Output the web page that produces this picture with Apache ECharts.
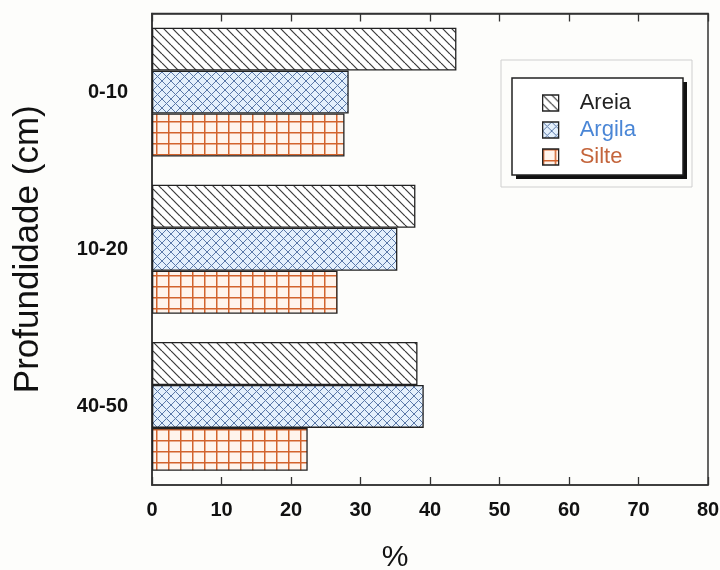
<!DOCTYPE html>
<html>
<head>
<meta charset="utf-8">
<script src="https://cdn.jsdelivr.net/npm/echarts@6/dist/echarts.min.js"></script>
<style>
  html, body { margin: 0; padding: 0; background: #fdfdfb; }
  #chart { width: 720px; height: 570px; }
</style>
</head>
<body>
<div id="chart"></div>
<script>
// Soil texture fractions (%) by depth layer
const depths = ['0-10', '10-20', '40-50'];
const areia  = [43.8, 37.9, 38.2];
const argila = [28.3, 35.3, 39.1];
const silte  = [27.7, 26.7, 22.4];
const xTicks = { min: 0, max: 80, interval: 10 };

// Hatch fills drawn on small tiles
function hatchDiagonal() {
  const s = 9, c = document.createElement('canvas');
  c.width = s; c.height = s;
  const g = c.getContext('2d');
  g.fillStyle = '#ffffff'; g.fillRect(0, 0, s, s);
  g.strokeStyle = '#3a3a3a'; g.lineWidth = 1.2;
  for (let k = -1; k <= 1; k++) {
    g.beginPath(); g.moveTo(k * s, 0); g.lineTo(k * s + s, s); g.stroke();
  }
  return c;
}
function hatchCross() {
  const s = 9, c = document.createElement('canvas');
  c.width = s; c.height = s;
  const g = c.getContext('2d');
  g.fillStyle = '#e4f0fc'; g.fillRect(0, 0, s, s);
  g.strokeStyle = '#5a78a8'; g.lineWidth = 1;
  for (let k = -1; k <= 1; k++) {
    g.beginPath(); g.moveTo(k * s, 0); g.lineTo(k * s + s, s); g.stroke();
    g.beginPath(); g.moveTo(k * s + s, 0); g.lineTo(k * s, s); g.stroke();
  }
  return c;
}
function hatchGrid() {
  const w = 12, h = 11, c = document.createElement('canvas');
  c.width = w; c.height = h;
  const g = c.getContext('2d');
  g.fillStyle = '#fff4ec'; g.fillRect(0, 0, w, h);
  g.strokeStyle = '#d2632c'; g.lineWidth = 1.5;
  g.beginPath(); g.moveTo(0.75, 0); g.lineTo(0.75, h); g.stroke();
  g.beginPath(); g.moveTo(0, 0.75); g.lineTo(w, 0.75); g.stroke();
  return c;
}

const fills = {
  Areia:  { image: hatchDiagonal(), repeat: 'repeat' },
  Argila: { image: hatchCross(), repeat: 'repeat' },
  Silte:  { image: hatchGrid(), repeat: 'repeat' }
};
const textColors = { Areia: '#222222', Argila: '#4a86d6', Silte: '#c4653c' };

const FONT = '"Liberation Sans", Arial, Helvetica, sans-serif';
const chart = echarts.init(document.getElementById('chart'), null, { renderer: 'canvas' });

function barSeries(name, values) {
  return {
    name: name,
    type: 'bar',
    data: values,
    barGap: '0%',
    barCategoryGap: '18%',
    itemStyle: { color: fills[name], borderColor: '#222222', borderWidth: 1.3 },
    emphasis: { disabled: true },
    animation: false
  };
}

chart.setOption({
  backgroundColor: '#fdfdfb',
  animation: false,
  grid: {
    left: 152, right: 12, top: 13.5, bottom: 85,
    show: true, borderColor: '#333333', borderWidth: 1.5,
    containLabel: false,
    outerBoundsMode: 'none'
  },
  xAxis: [
    {
      type: 'value', position: 'bottom',
      min: xTicks.min, max: xTicks.max, interval: xTicks.interval,
      axisLine: { show: true, lineStyle: { color: '#333333', width: 1.5 } },
      axisTick: { show: true, inside: true, length: 8, lineStyle: { color: '#333333', width: 1.3 } },
      axisLabel: { fontFamily: FONT, fontWeight: 'bold', fontSize: 20, color: '#111111', margin: 15 },
      splitLine: { show: false },
      name: '%', nameLocation: 'middle', nameGap: 58,
      nameTextStyle: { fontFamily: FONT, fontSize: 30, color: '#111111', padding: [0, 70, 0, 0] }
    },
    {
      type: 'value', position: 'top',
      min: xTicks.min, max: xTicks.max, interval: xTicks.interval,
      axisLine: { show: true, lineStyle: { color: '#333333', width: 1.5 } },
      axisTick: { show: true, inside: true, length: 8, lineStyle: { color: '#333333', width: 1.3 } },
      axisLabel: { show: false },
      splitLine: { show: false }
    }
  ],
  yAxis: {
    type: 'category', data: depths, inverse: true,
    axisLine: { show: true, lineStyle: { color: '#333333', width: 1.5 } },
    axisTick: { show: false },
    axisLabel: { fontFamily: FONT, fontWeight: 'bold', fontSize: 20, color: '#111111', margin: 24 },
    name: 'Profundidade (cm)', nameLocation: 'middle', nameGap: 106, nameRotate: 90,
    nameTextStyle: { fontFamily: FONT, fontSize: 35, color: '#111111' }
  },
  legend: {
    orient: 'vertical', left: 542, top: 92, padding: 0,
    icon: 'rect',
    itemWidth: 16, itemHeight: 16, itemGap: 5,
    selectedMode: false,
    textStyle: { fontFamily: FONT, fontSize: 22, padding: [0, 0, 0, 16] },
    data: ['Areia', 'Argila', 'Silte'].map(n => ({
      name: n,
      itemStyle: { borderColor: '#222222', borderWidth: 1.3 },
      textStyle: { color: textColors[n] }
    }))
  },
  graphic: [
    { type: 'rect', z: 1, shape: { x: 501, y: 60, width: 191, height: 127 },
      style: { fill: 'none', stroke: '#cfcfcf', lineWidth: 1 } },
    { type: 'rect', z: 2, shape: { x: 516, y: 82, width: 171, height: 97 },
      style: { fill: '#111111' } },
    { type: 'rect', z: 3, shape: { x: 512, y: 78, width: 171, height: 97 },
      style: { fill: '#ffffff', stroke: '#222222', lineWidth: 1.5 } }
  ],
  series: [
    barSeries('Areia', areia),
    barSeries('Argila', argila),
    barSeries('Silte', silte)
  ]
});
</script>
</body>
</html>
